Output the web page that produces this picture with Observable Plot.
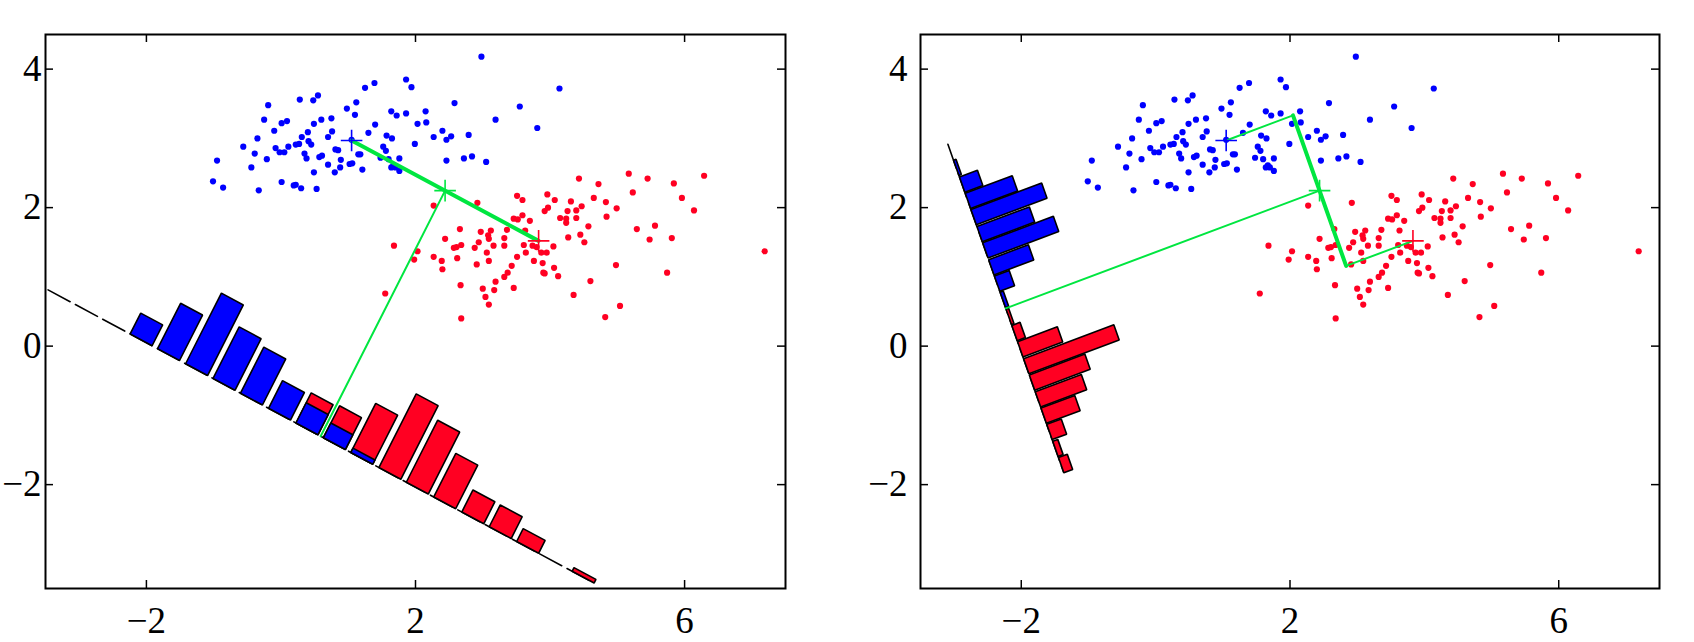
<!DOCTYPE html>
<html><head><meta charset="utf-8">
<script src="https://cdn.jsdelivr.net/npm/d3@7"></script>
<script src="https://cdn.jsdelivr.net/npm/@observablehq/plot@0.6"></script>
<style>
html,body{margin:0;padding:0;background:#fff;}
#wrap{display:flex;width:1694px;height:642px;}
#wrap svg{overflow:visible;}
</style></head><body><div id="wrap"></div>
<script>
// ---- class 1 (blue) samples ----
const blueX = [2.98,4.14,1.86,1.94,1.39,1.25,2.58,3.55,1.12,0.98,1.10,0.55,0.48,0.28,-0.19,-0.25,0.01,0.09,-0.10,-0.35,-0.56,-0.39,-0.21,-0.44,-0.95,-1.01,-0.86,-0.33,0.01,0.19,0.22,0.30,0.53,0.49,0.70,0.80,0.88,0.89,0.57,0.61,0.38,0.35,0.45,0.41,0.31,0.22,0.27,0.40,0.49,0.60,0.75,0.76,0.70,0.81,0.85,-0.08,-0.02,0.05,0.11,1.05,1.15,1.18,1.02,1.06,1.21,1.30,1.40,1.64,1.72,1.86,1.57,1.65,1.52,1.56,1.48,1.60,1.76,1.64,1.70,1.76,1.99,2.03,2.15,2.16,2.27,2.40,2.46,2.53,2.79,2.46,2.72,2.84,3.05,3.19,3.81,1.67];
const blueY = [4.18,3.72,3.85,3.74,3.80,3.73,3.51,3.46,3.52,3.43,3.34,3.62,3.55,3.56,3.48,3.27,3.22,3.25,3.11,3.00,2.88,2.78,2.70,2.58,2.68,2.38,2.29,2.25,2.37,2.32,2.33,2.28,2.27,2.51,2.62,2.51,2.58,2.69,2.73,2.75,2.71,2.78,2.91,2.96,3.02,2.91,2.92,3.09,3.21,3.27,3.29,3.10,3.02,2.84,2.83,2.86,2.80,2.80,2.88,2.98,2.77,2.77,2.63,2.64,2.55,3.08,3.20,3.39,3.33,3.36,3.04,3.00,2.88,2.82,2.72,2.70,2.71,2.58,2.58,2.53,2.92,3.21,3.39,3.23,3.02,3.11,2.98,3.03,3.05,2.68,2.71,2.74,2.66,3.27,3.15,2.61];
// ---- class 2 (red) samples ----
const redX = [1.55,1.68,1.98,2.03,2.27,2.92,3.51,3.59,3.96,4.07,4.31,4.43,4.72,4.65,4.83,4.99,5.17,5.23,5.45,5.84,6.29,5.96,6.14,3.92,3.97,3.59,3.46,3.52,3.70,4.15,4.24,4.26,4.39,4.47,4.39,4.24,4.84,4.57,4.27,4.45,4.51,5.29,5.56,5.48,5.81,7.19,4.98,5.74,4.60,4.35,4.82,5.04,2.66,2.97,3.12,3.08,3.09,3.36,3.32,2.44,2.68,2.57,2.61,2.88,2.94,3.16,3.32,3.06,3.63,3.61,3.74,3.80,3.87,3.95,3.64,4.05,2.91,3.09,3.51,3.43,3.76,3.89,4.06,3.90,3.92,4.12,3.37,3.32,3.19,3.17,3.00,3.04,3.09,3.46,2.67,2.68,2.27,2.39,2.40,2.62];
const redY = [0.76,1.45,1.25,1.37,2.03,2.07,2.17,2.11,2.19,2.11,2.09,2.42,2.34,2.14,2.08,1.99,2.49,2.22,2.42,2.35,2.46,2.14,1.96,1.95,2.00,1.89,1.84,1.83,1.81,1.85,1.84,1.95,1.96,2.02,1.85,1.78,1.87,1.73,1.57,1.61,1.50,1.69,1.74,1.54,1.56,1.37,1.17,1.06,0.94,0.74,0.42,0.58,1.69,1.65,1.67,1.60,1.55,1.68,1.56,1.55,1.46,1.42,1.43,1.42,1.50,1.45,1.45,1.35,1.67,1.46,1.45,1.43,1.35,1.35,1.35,1.44,1.18,1.23,1.29,1.16,1.23,1.20,1.13,1.06,1.05,1.01,1.06,1.00,0.93,0.81,0.83,0.71,0.60,0.84,0.88,0.40,1.29,1.23,1.11,1.27];
// class means (blue, red)
const meanX = [1.05, 3.83];
const meanY = [2.97, 1.52];

// ---- left panel: projection onto the line joining the means ----
const leftDir = [meanX[1] - meanX[0], meanY[1] - meanY[0]];
const leftOffset = 4.0;
const leftAxisHalf = 4.57;
const leftBins = [-3.01,-2.55,-2.08,-1.62,-1.16,-0.69,-0.23,0.23,0.69,1.16,1.62,2.08,2.55,3.01,3.47,3.93,4.40];
const leftBlueHist = [0.34,0.74,1.15,0.84,0.75,0.45,0.33,0.24,0.07,0,0,0,0,0,0,0,0];
const leftRedHist  = [0,0,0,0,0,0,0.49,0.52,0.80,1.20,1.01,0.71,0.36,0.355,0.21,0,0.06];

// ---- right panel: Fisher direction ----
const rightDir = [0.342, -0.940];
const rightOffset = 4.97;
const rightAxisHalf = 2.52;
const rightBins = [-2.16,-1.90,-1.65,-1.40,-1.14,-0.89,-0.63,-0.38,-0.13,0.13,0.38,0.63,0.89,1.14,1.40,1.65,1.90,2.16,2.41];
const rightBlueHist = [0.04,0.285,0.745,1.12,0.83,1.12,0.63,0.235,0.05,0,0,0,0,0,0,0,0,0,0];
const rightRedHist  = [0,0,0,0,0,0,0,0,0,0.04,0.13,0.63,1.43,0.88,0.73,0.535,0.23,0.08,0.14];

const xTicks = [-2, 2, 6];
const yTicks = [-2, 0, 2, 4];
const xDomain = [-3.5, 7.5];
const yDomain = [-3.5, 4.5];

const BLUE = "#0000ff", RED = "#ff0022", GREEN = "#00e640";
const FONT = "Liberation Serif";
const fmt = d => (d < 0 ? "\u2212" : "") + Math.abs(d);

const bluePts = blueX.map((x, i) => ({x, y: blueY[i]}));
const redPts = redX.map((x, i) => ({x, y: redY[i]}));
const mid = [(meanX[0] + meanX[1]) / 2, (meanY[0] + meanY[1]) / 2];
const meanPts = [
  {x: meanX[0], y: meanY[0], c: BLUE},
  {x: meanX[1], y: meanY[1], c: RED},
  {x: mid[0], y: mid[1], c: GREEN}
];

function panel(opt) {
  const L = Math.hypot(opt.dir[0], opt.dir[1]);
  const u = [opt.dir[0] / L, opt.dir[1] / L];
  const n = [-u[1], u[0]];
  const base = [mid[0] - opt.offset * n[0], mid[1] - opt.offset * n[1]];
  const pt = (s, h) => ({x: base[0] + s * u[0] + h * n[0], y: base[1] + s * u[1] + h * n[1]});
  const step = opt.bins[1] - opt.bins[0];
  const hw = step * opt.barFrac / 2;
  function rects(hist, tag) {
    const out = [];
    hist.forEach((h, k) => {
      if (!(h > 0)) return;
      const c = opt.bins[k];
      const id = tag + k;
      [pt(c - hw, 0), pt(c + hw, 0), pt(c + hw, h), pt(c - hw, h)].forEach(p => out.push({...p, id}));
    });
    return out;
  }
  const axisLine = [pt(-opt.axisHalf, 0), pt(opt.axisHalf, 0)];
  const proj = (m) => { const t = (m[0] - mid[0]) * u[0] + (m[1] - mid[1]) * u[1]; return {x: mid[0] + t * u[0], y: mid[1] + t * u[1]}; };
  const bm = {x: meanX[0], y: meanY[0]}, rm = {x: meanX[1], y: meanY[1]};
  const A = proj([meanX[0], meanY[0]]), B = proj([meanX[1], meanY[1]]);
  const thick = opt.fisher ? [A, B] : [bm, rm];
  const thin = opt.fisher ? [[bm, A], [B, rm], [{x: mid[0], y: mid[1]}, pt(0, 0)]] : [[{x: mid[0], y: mid[1]}, pt(0, 0)]];
  const thinData = thin.flatMap((seg, i) => seg.map(p => ({...p, id: i})));

  const W = 847, H = 642;
  const mt = 34, mb = 54;
  const innerH = H - mt - mb, innerW = W - opt.ml - opt.mr;
  return Plot.plot({
    width: W, height: H,
    marginLeft: opt.ml, marginRight: opt.mr, marginTop: mt, marginBottom: mb,
    x: {domain: xDomain, label: null},
    y: {domain: yDomain, label: null},
    axis: null,
    style: {background: "white", overflow: "visible"},
    marks: [
      Plot.line(axisLine, {x: "x", y: "y", stroke: "black", strokeWidth: 1.6, strokeDasharray: "25,6"}),
      Plot.dot(bluePts, {x: "x", y: "y", r: 3.1, fill: BLUE}),
      Plot.dot(redPts, {x: "x", y: "y", r: 3.1, fill: RED}),
      Plot.line(rects(opt.redHist, "r"), {x: "x", y: "y", z: "id", fill: RED, stroke: "black", strokeWidth: 1.6, curve: "linear-closed", strokeLinejoin: "miter"}),
      Plot.line(rects(opt.blueHist, "b"), {x: "x", y: "y", z: "id", fill: BLUE, stroke: "black", strokeWidth: 1.6, curve: "linear-closed", strokeLinejoin: "miter"}),
      Plot.line(thinData, {x: "x", y: "y", z: "id", stroke: GREEN, strokeWidth: 2}),
      Plot.line(thick, {x: "x", y: "y", stroke: GREEN, strokeWidth: 4}),
      Plot.dot(meanPts, {x: "x", y: "y", symbol: "plus", r: 7, stroke: "c", strokeWidth: 1.6}),
      Plot.frame({stroke: "black", strokeWidth: 2}),
      Plot.ruleX(xTicks, {x: d => d, insetTop: innerH - 8, stroke: "black", strokeWidth: 1.5}),
      Plot.ruleX(xTicks, {x: d => d, insetBottom: innerH - 8, stroke: "black", strokeWidth: 1.5}),
      Plot.ruleY(yTicks, {y: d => d, insetRight: innerW - 8, stroke: "black", strokeWidth: 1.5}),
      Plot.ruleY(yTicks, {y: d => d, insetLeft: innerW - 8, stroke: "black", strokeWidth: 1.5}),
      Plot.text(xTicks, {x: d => d, frameAnchor: "bottom", dy: 18, lineAnchor: "top", text: fmt, fill: "black", fontFamily: FONT, fontSize: 37}),
      Plot.text(yTicks, {y: d => d, frameAnchor: "left", dx: -opt.ypad, textAnchor: "end", lineAnchor: "middle", text: fmt, fill: "black", fontFamily: FONT, fontSize: 37})
    ]
  });
}

const wrap = document.getElementById("wrap");
wrap.append(panel({dir: leftDir, offset: leftOffset, axisHalf: leftAxisHalf, bins: leftBins, blueHist: leftBlueHist, redHist: leftRedHist, barFrac: 0.8, fisher: false, ml: 45, mr: 62, ypad: 4}));
wrap.append(panel({dir: rightDir, offset: rightOffset, axisHalf: rightAxisHalf, bins: rightBins, blueHist: rightBlueHist, redHist: rightRedHist, barFrac: 0.9, fisher: true, ml: 73, mr: 35, ypad: 13}));
</script></body></html>
